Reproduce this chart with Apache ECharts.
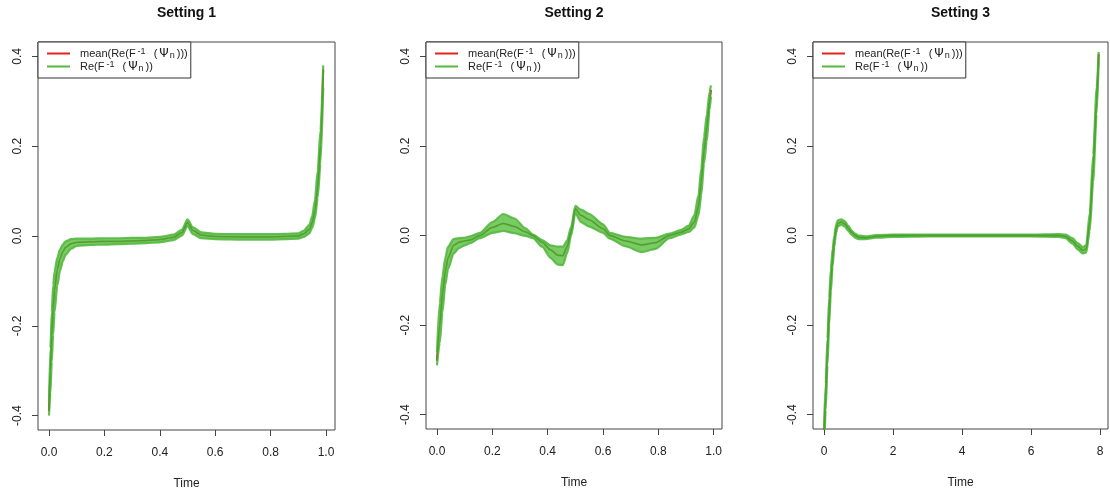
<!DOCTYPE html>
<html>
<head>
<meta charset="utf-8">
<script src="https://cdn.jsdelivr.net/npm/echarts@6/dist/echarts.min.js"></script>
<style>
html,body{margin:0;padding:0;background:#fff;}
#c{width:1110px;height:495px;}
</style>
</head>
<body>
<div id="c"></div>
<script>
// ---------- data ----------
const titles = ['Setting 1', 'Setting 2', 'Setting 3'];
const meanName = 'mean(Re(F⁻¹ (Ψₙ)))';
const curveName = 'Re(F⁻¹ (Ψₙ))';
const meanLabel = 'mean(Re(F{sup|-1}{sp| }({psi|Ψ}{sub|n})))';
const curveLabel = 'Re(F{sup|-1}{sp| }({psi|Ψ}{sub|n}))';
const yTicks = [-0.4, -0.2, 0.0, 0.2, 0.4];
const xTicksUnit = [0, 0.2, 0.4, 0.6, 0.8, 1.0];
const xTicksS3 = [0, 2, 4, 6, 8];

// Setting 1
const s1X     = [0, 0.005, 0.01, 0.015, 0.02, 0.03, 0.04, 0.05, 0.06, 0.08, 0.1, 0.15, 0.2, 0.25, 0.3, 0.35, 0.4, 0.45, 0.48, 0.5, 0.52, 0.55, 0.6, 0.7, 0.8, 0.85, 0.9, 0.92, 0.94, 0.95, 0.96, 0.97, 0.98, 0.99];
const s1Mean  = [-0.39, -0.30, -0.22, -0.16, -0.12, -0.075, -0.05, -0.035, -0.025, -0.017, -0.014, -0.013, -0.012, -0.012, -0.011, -0.010, -0.008, -0.003, 0.008, 0.030, 0.012, 0.002, -0.001, -0.002, -0.002, -0.001, 0.000, 0.005, 0.015, 0.030, 0.055, 0.11, 0.20, 0.37];
const s1Lower = [-0.40, -0.35, -0.28, -0.22, -0.17, -0.11, -0.077, -0.056, -0.042, -0.028, -0.022, -0.020, -0.019, -0.018, -0.017, -0.016, -0.014, -0.009, 0.001, 0.022, 0.004, -0.005, -0.007, -0.008, -0.008, -0.007, -0.006, -0.002, 0.006, 0.018, 0.038, 0.085, 0.16, 0.33];
const s1Upper = [-0.37, -0.25, -0.17, -0.11, -0.08, -0.048, -0.030, -0.019, -0.012, -0.007, -0.006, -0.006, -0.005, -0.005, -0.004, -0.004, -0.002, 0.003, 0.014, 0.037, 0.019, 0.008, 0.005, 0.004, 0.004, 0.005, 0.006, 0.012, 0.025, 0.044, 0.080, 0.145, 0.235, 0.38];

// Setting 2
const s2X     = [0, 0.01, 0.02, 0.03, 0.04, 0.06, 0.08, 0.1, 0.12, 0.155, 0.2, 0.24, 0.28, 0.32, 0.347, 0.38, 0.41, 0.437, 0.455, 0.47, 0.485, 0.5, 0.52, 0.55, 0.6, 0.625, 0.68, 0.74, 0.79, 0.84, 0.88, 0.91, 0.93, 0.945, 0.955, 0.965, 0.975, 0.985, 0.99];
const s2Mean  = [-0.28, -0.20, -0.13, -0.08, -0.05, -0.022, -0.015, -0.012, -0.010, 0.000, 0.018, 0.027, 0.020, 0.008, 0.000, -0.015, -0.032, -0.044, -0.045, -0.025, 0.010, 0.060, 0.045, 0.035, 0.015, 0.000, -0.012, -0.021, -0.016, 0.000, 0.007, 0.015, 0.030, 0.065, 0.12, 0.19, 0.24, 0.30, 0.325];
const s2Lower = [-0.29, -0.24, -0.17, -0.11, -0.075, -0.04, -0.028, -0.022, -0.017, -0.006, 0.006, 0.010, 0.005, -0.001, -0.006, -0.025, -0.050, -0.065, -0.066, -0.040, 0.000, 0.050, 0.030, 0.020, 0.006, -0.007, -0.024, -0.037, -0.030, -0.006, 0.002, 0.008, 0.018, 0.045, 0.09, 0.16, 0.21, 0.28, 0.31];
const s2Upper = [-0.26, -0.15, -0.09, -0.05, -0.025, -0.008, -0.006, -0.005, -0.002, 0.006, 0.030, 0.048, 0.038, 0.016, 0.002, -0.010, -0.022, -0.025, -0.025, -0.012, 0.020, 0.066, 0.058, 0.048, 0.025, 0.006, -0.003, -0.007, -0.005, 0.004, 0.012, 0.022, 0.045, 0.09, 0.15, 0.22, 0.27, 0.32, 0.335];

// Setting 3
const s3X     = [0, 0.05, 0.1, 0.15, 0.2, 0.25, 0.3, 0.35, 0.4, 0.5, 0.6, 0.7, 0.8, 0.9, 1.0, 1.2, 1.5, 2, 3, 4, 5, 6, 6.8, 7.0, 7.2, 7.35, 7.5, 7.6, 7.7, 7.8, 7.9, 7.96];
const s3Mean  = [-0.46, -0.36, -0.26, -0.17, -0.10, -0.05, -0.012, 0.015, 0.027, 0.030, 0.026, 0.017, 0.007, 0.000, -0.004, -0.005, -0.002, 0.000, 0.000, 0.000, 0.000, 0.000, 0.000, -0.002, -0.012, -0.024, -0.033, -0.030, 0.03, 0.15, 0.30, 0.405];
const s3Lower = [-0.49, -0.39, -0.29, -0.20, -0.125, -0.07, -0.025, 0.006, 0.020, 0.024, 0.020, 0.011, 0.002, -0.005, -0.008, -0.008, -0.005, -0.003, -0.002, -0.002, -0.002, -0.002, -0.003, -0.006, -0.018, -0.031, -0.040, -0.038, 0.01, 0.12, 0.27, 0.39];
const s3Upper = [-0.43, -0.33, -0.23, -0.14, -0.075, -0.03, 0.000, 0.024, 0.034, 0.036, 0.032, 0.022, 0.011, 0.004, 0.000, -0.002, 0.001, 0.002, 0.002, 0.002, 0.002, 0.002, 0.003, 0.002, -0.006, -0.017, -0.026, -0.022, 0.05, 0.18, 0.33, 0.41];

// ---------- build ----------
const panels = [
  {x: s1X, mean: s1Mean, lo: s1Lower, hi: s1Upper, xTicks: xTicksUnit, xMin: -0.0397, xMax: 1.0325, fmt: v => v.toFixed(1)},
  {x: s2X, mean: s2Mean, lo: s2Lower, hi: s2Upper, xTicks: xTicksUnit, xMin: -0.0397, xMax: 1.0300, fmt: v => v.toFixed(1)},
  {x: s3X, mean: s3Mean, lo: s3Lower, hi: s3Upper, xTicks: xTicksS3, xMin: -0.318, xMax: 8.23, fmt: v => String(v)}
];
const grids = [
  {left: 38, top: 42, width: 297, height: 388},
  {left: 426, top: 42, width: 296, height: 387},
  {left: 813, top: 42, width: 295, height: 387}
];
const RED = '#e0231b';
const GREEN = '#55b840';
const GREEN_FILL = '#66c44f';
const GREEN_DARK = '#3a9a2a';
const FONT = '"Liberation Sans", Arial, Helvetica, sans-serif';

const pairs = (xs, ys) => xs.map((v, i) => [v, ys[i]]);
const legendLabels = {};
legendLabels[meanName] = meanLabel;
legendLabels[curveName] = curveLabel;

const option = {
  animation: false,
  backgroundColor: '#ffffff',
  textStyle: {fontFamily: FONT},
  title: titles.map((t, i) => ({
    text: t,
    left: grids[i].left + grids[i].width / 2,
    top: 0,
    textAlign: 'center',
    padding: [6, 0, 0, 0],
    textStyle: {fontSize: 14, fontWeight: 'bold', color: '#111', fontFamily: FONT}
  })),
  legend: grids.map(g => ({
    orient: 'vertical',
    left: g.left,
    top: g.top,
    padding: [5, 3, 5, 9],
    itemGap: 0,
    itemWidth: 23,
    itemHeight: 2,
    icon: 'rect',
    selectedMode: false,
    borderColor: '#333',
    borderWidth: 1,
    borderRadius: 0,
    backgroundColor: '#ffffff',
    formatter: name => legendLabels[name],
    textStyle: {
      fontSize: 11, lineHeight: 13, color: '#222', fontFamily: FONT, padding: [0, 0, 0, 5],
      rich: {
        sup: {fontSize: 9, lineHeight: 13, verticalAlign: 'top', color: '#222', fontFamily: FONT, padding: [0, 2, 0, 2]},
        sub: {fontSize: 9, lineHeight: 10, verticalAlign: 'bottom', color: '#222', fontFamily: FONT, padding: [4, 2, 0, 0]},
        sp: {fontSize: 11, lineHeight: 13, color: '#222', fontFamily: FONT, padding: [0, 3, 0, 0]},
        psi: {fontSize: 12, lineHeight: 13, color: '#222', fontFamily: '"DejaVu Sans", sans-serif', padding: [0, 1, 0, 2]}
      }
    },
    data: [
      {name: meanName, itemStyle: {color: RED}},
      {name: curveName, itemStyle: {color: GREEN}}
    ],
    z: 10
  })),
  grid: grids.map(g => Object.assign({show: true, borderColor: '#444', borderWidth: 1, backgroundColor: '#fff', outerBoundsMode: 'none', containLabel: false}, g)),
  xAxis: panels.map((p, i) => ({
    type: 'value',
    gridIndex: i,
    min: p.xMin,
    max: p.xMax,
    name: 'Time',
    nameLocation: 'middle',
    nameGap: 48,
    nameTextStyle: {fontSize: 12, color: '#222', fontFamily: FONT},
    axisLine: {show: false, onZero: false},
    axisTick: {show: true, customValues: p.xTicks, length: 6, inside: false, lineStyle: {color: '#444', width: 1}},
    axisLabel: {customValues: p.xTicks, formatter: p.fmt, margin: 17, fontSize: 12, color: '#222', fontFamily: FONT},
    splitLine: {show: false}
  })),
  yAxis: panels.map((p, i) => ({
    type: 'value',
    gridIndex: i,
    min: -0.432,
    max: 0.432,
    axisLine: {show: false, onZero: false},
    axisTick: {show: true, customValues: yTicks, length: 6, inside: false, lineStyle: {color: '#444', width: 1}},
    axisLabel: {customValues: yTicks, formatter: v => v.toFixed(1), rotate: 90, margin: 14, fontSize: 12, color: '#222', fontFamily: FONT},
    splitLine: {show: false}
  })),
  series: []
};

panels.forEach((p, i) => {
  // mean (red), drawn first, mostly hidden beneath the green curves
  option.series.push({
    name: meanName, type: 'line', xAxisIndex: i, yAxisIndex: i,
    data: pairs(p.x, p.mean), showSymbol: false, smooth: 0.25, smoothMonotone: 'x',
    lineStyle: {color: RED, width: 2}, itemStyle: {color: RED}, z: 2, clip: true
  });
  // green band of realisations
  option.series.push({
    name: curveName, type: 'custom', xAxisIndex: i, yAxisIndex: i,
    data: [[p.x[0], p.mean[0]]],
    itemStyle: {color: GREEN},
    z: 3,
    renderItem: (params, api) => {
      const pts = [];
      for (let k = 0; k < p.x.length; k++) pts.push(api.coord([p.x[k], p.hi[k]]));
      for (let k = p.x.length - 1; k >= 0; k--) pts.push(api.coord([p.x[k], p.lo[k]]));
      const cs = params.coordSys;
      return {
        type: 'polygon',
        shape: {points: pts, smooth: 0},
        style: {fill: GREEN_FILL, opacity: 0.88},
        clipPath: {type: 'rect', shape: {x: cs.x, y: cs.y, width: cs.width, height: cs.height}}
      };
    }
  });
  [p.lo, p.hi].forEach(arr => {
    option.series.push({
      name: curveName, type: 'line', xAxisIndex: i, yAxisIndex: i,
      data: pairs(p.x, arr), showSymbol: false, smooth: 0.25, smoothMonotone: 'x',
      lineStyle: {color: GREEN, width: 2.2, opacity: 0.9}, itemStyle: {color: GREEN}, z: 4, clip: true
    });
  });
  option.series.push({
    name: curveName, type: 'line', xAxisIndex: i, yAxisIndex: i,
    data: pairs(p.x, p.mean), showSymbol: false, smooth: 0.25, smoothMonotone: 'x',
    lineStyle: {color: GREEN_DARK, width: 1.3, opacity: 0.7}, itemStyle: {color: GREEN}, z: 5, clip: true
  });
});

const chart = echarts.init(document.getElementById('c'), null, {renderer: 'canvas'});
chart.setOption(option);
</script>
</body>
</html>
